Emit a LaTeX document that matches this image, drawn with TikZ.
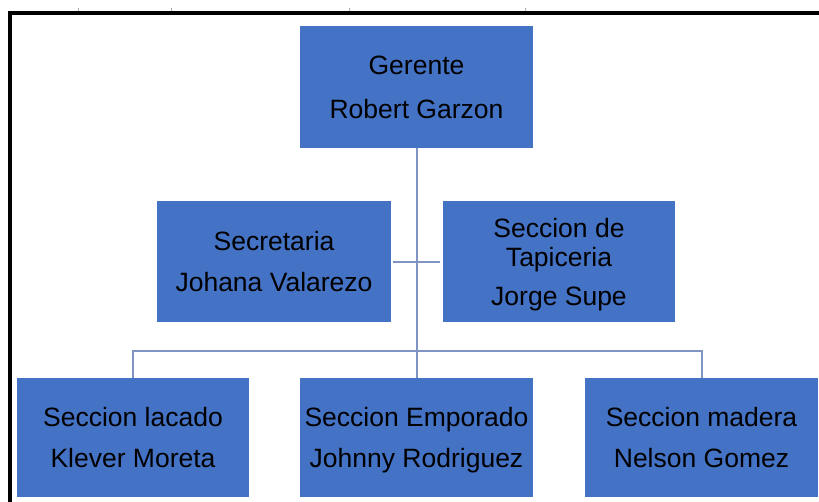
\documentclass[tikz,border=0pt]{standalone}
\usepackage{fontspec}
\setmainfont{Liberation Sans}
\definecolor{boxblue}{HTML}{4472C4}
\definecolor{linkblue}{RGB}{128,148,196}
\definecolor{tickgray}{RGB}{170,170,170}
\newcommand\firstln{\rule{0pt}{25pt}}
\newcommand\lastln{\rule[-6pt]{0pt}{6pt}}
\begin{document}
\begin{tikzpicture}[x=1pt,y=-1pt,
  orgbox/.style={fill=boxblue, draw=none, inner sep=0pt, minimum width=233pt,
    minimum height=121pt, align=center, text=black,
    font=\fontsize{26.5}{41}\selectfont},
  link/.style={draw=linkblue, line width=2pt},
  frameline/.style={draw=black, line width=4pt},
  tick/.style={draw=tickgray, line width=1pt}]
\useasboundingbox[fill=white] (0,0) rectangle (819,502);
% frame
\coordinate (ftl) at (8,13);
\coordinate (ftr) at (819,13);
\coordinate (fbl) at (10,502);
\draw[frameline] (ftr) -- (ftl -| fbl) -- (fbl);
\foreach \tx in {78,171,349,525} {
  \coordinate (t\tx a) at (\tx,8);
  \coordinate (t\tx b) at (\tx,11);
  \draw[tick] (t\tx a) -- (t\tx b);
}
% boxes
\node[orgbox, minimum height=122pt] (ger) at (416.5,87) {\firstln Gerente\\[3pt]Robert Garzon\lastln};
\node[orgbox, minimum width=234pt] (sec) at (274,262) {\firstln Secretaria\\Johana Valarezo\lastln};
\node[orgbox, minimum width=232pt, font=\fontsize{26.5}{29}\selectfont] (tap) at (559,262) {\firstln Seccion de\\Tapiceria\\[10pt]Jorge Supe\lastln};
\node[orgbox, minimum width=232pt, minimum height=119pt] (lac) at (133,437.5) {\firstln Seccion lacado\\Klever Moreta\lastln};
\node[orgbox, minimum height=119pt] (emp) at (416.5,437.5) {\firstln Seccion Emporado\\Johnny Rodriguez\lastln};
\node[orgbox, minimum height=119pt] (mad) at (701.5,437.5) {\firstln Seccion madera\\Nelson Gomez\lastln};
% connectors
\draw[link] (ger.south) -- (emp.north);
\draw[link, shorten <=2pt, shorten >=3pt] (sec.east) -- (tap.west);
\coordinate (bar) at (416.5,351);
\draw[link] (lac.north) |- (bar) -| (mad.north);
\end{tikzpicture}
\end{document}
